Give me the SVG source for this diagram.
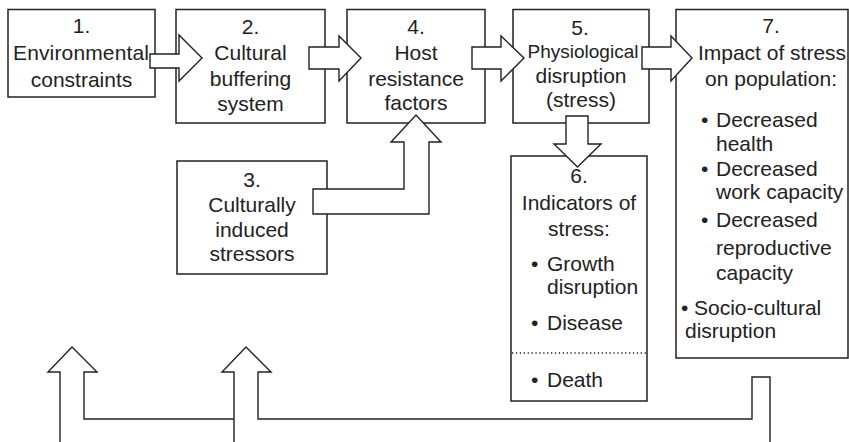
<svg xmlns="http://www.w3.org/2000/svg" width="849" height="442" viewBox="0 0 849 442">
<style>
.box{fill:#fff;stroke:#222;stroke-width:1.5}
.arr{fill:#fff;stroke:#222;stroke-width:1.4;stroke-linejoin:miter}
.fb{fill:none;stroke:#222;stroke-width:1.4}
text{font-family:"Liberation Sans",Arial,sans-serif;font-size:21px;fill:#222}
.c{text-anchor:middle}
.dot{stroke:#222;stroke-width:1.4;stroke-dasharray:1.3 2.6}
</style>
<rect width="849" height="442" fill="#fff"/>
<g id="node1">
<rect class="box" x="8" y="9.5" width="147" height="87.5"/>
<text class="c" x="81.5" y="33">1.</text>
<text class="c" x="81" y="60" textLength="136" lengthAdjust="spacing">Environmental</text>
<text class="c" x="81.5" y="87">constraints</text>
</g>
<g id="node2">
<rect class="box" x="176" y="9.5" width="149" height="113.5"/>
<text class="c" x="250.5" y="34">2.</text>
<text class="c" x="250.5" y="60">Cultural</text>
<text class="c" x="250.5" y="86">buffering</text>
<text class="c" x="250.5" y="111">system</text>
</g>
<g id="node3">
<rect class="box" x="177" y="161" width="150" height="113"/>
<text class="c" x="252" y="187">3.</text>
<text class="c" x="252" y="212">Culturally</text>
<text class="c" x="252" y="237">induced</text>
<text class="c" x="252" y="261">stressors</text>
</g>
<g id="node4">
<rect class="box" x="347" y="9.5" width="138" height="113.5"/>
<text class="c" x="416" y="34">4.</text>
<text class="c" x="416" y="60">Host</text>
<text class="c" x="416" y="86">resistance</text>
<text class="c" x="416" y="110">factors</text>
</g>
<g id="node5">
<rect class="box" x="513" y="9.5" width="136" height="113.5"/>
<text class="c" x="580" y="35">5.</text>
<text class="c" x="583" y="58" style="font-size:19px">Physiological</text>
<text class="c" x="581" y="83">disruption</text>
<text class="c" x="581" y="107">(stress)</text>
</g>
<g id="node6">
<rect class="box" x="511" y="156" width="136" height="245"/>
<text class="c" x="579" y="183">6.</text>
<text class="c" x="579" y="210">Indicators of</text>
<text class="c" x="579" y="236">stress:</text>
<text x="531" y="271">•</text><text x="547" y="271">Growth</text>
<text x="547" y="294">disruption</text>
<text x="531" y="330">•</text><text x="547" y="330">Disease</text>
<line class="dot" x1="512" y1="353" x2="646" y2="353"/>
<text x="531" y="387">•</text><text x="547" y="387">Death</text>
</g>
<g id="node7">
<rect class="box" x="676" y="9.5" width="172" height="348.5"/>
<text class="c" x="771" y="33">7.</text>
<text class="c" x="772" y="60">Impact of stress</text>
<text class="c" x="771" y="86">on population:</text>
<text x="701" y="127">•</text><text x="716" y="127">Decreased</text>
<text x="716" y="151">health</text>
<text x="701" y="176">•</text><text x="716" y="176">Decreased</text>
<text x="716" y="199">work capacity</text>
<text x="701" y="227">•</text><text x="716" y="227">Decreased</text>
<text x="716" y="255">reproductive</text>
<text x="716" y="280">capacity</text>
<text x="681" y="315">•</text><text x="694" y="315">Socio-cultural</text>
<text x="685" y="338">disruption</text>
</g>
<g id="connectors">
<polygon class="arr" points="150,54 179,54 179,35 202,58 179,81 179,68 150,68"/>
<polygon class="arr" points="309,47 339,47 339,36 361,58 339,81 339,69 309,69"/>
<polygon class="arr" points="472,47 501,47 501,36 524,58 501,81 501,69 472,69"/>
<polygon class="arr" points="642,47 671,47 671,36 692,58 671,81 671,69 642,69"/>
<polygon class="arr" points="566,116 588,116 588,144 601,144 577.5,167 554,144 566,144"/>
<polygon class="arr" points="313,189 404,189 404,142 391,142 416,115 441,142 429,142 429,214 313,214"/>
<path class="fb" d="M60,442 V372 H48 L72,347 L97,372 H84 V419 H234"/>
<path class="fb" d="M234,442 V372 H222 L246,347 L271,372 H258 V419 H752 V377 H770 V442"/>
</g>
</svg>
